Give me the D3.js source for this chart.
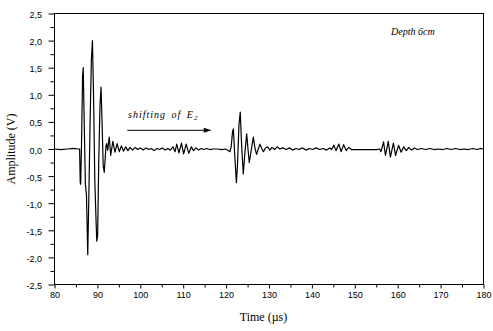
<!DOCTYPE html>
<html>
<head>
<meta charset="utf-8">
<script src="https://cdn.jsdelivr.net/npm/d3@7"></script>
<style>
  body { margin: 0; background: #fff; }
  svg { display: block; }
  .tick text { font-family: "Liberation Sans", Arial, sans-serif; font-size: 9px; fill: #000; }
  .tick line { stroke: #000; }
</style>
</head>
<body>
<div id="chart-area"></div>
<script>
// Received signal, [time (µs), amplitude (V)]
const leadIn = [
  [80, 0.00], [81.5, -0.01], [83, 0.00], [84.5, 0.01], [85.5, 0.00], [85.85, 0.0]
];
const firstEcho = [
  [86.0, -0.62], [86.1, -0.65], [86.3, 0.1], [86.55, 1.35], [86.7, 1.5], [86.9, 0.6],
  [87.2, -0.65], [87.45, -0.85], [87.75, -1.95], [88.0, -0.9], [88.3, 0.5], [88.6, 1.65],
  [88.85, 2.0], [89.1, 1.0], [89.4, -0.6], [89.7, -1.35], [89.85, -1.7], [90.05, -1.6],
  [90.3, -0.3], [90.6, 0.8], [90.85, 1.14], [91.05, 0.6], [91.35, -0.3], [91.6, -0.43],
  [92.0, 0.05], [92.15, 0.1], [92.4, -0.02], [92.75, 0.22], [93.1, -0.12], [93.6, 0.14],
  [94.1, -0.06], [94.6, 0.1], [95.1, -0.05], [95.6, 0.06], [96.1, -0.04], [96.6, 0.04],
  [97.1, -0.03], [97.6, 0.03]
];
const firstTail = [
  [98.2, -0.02], [98.8, 0.03], [99.4, -0.01], [100, 0.02], [100.7, -0.02], [101.3, 0.02],
  [102, -0.01], [102.6, 0.01], [103.2, -0.03], [103.9, 0.01], [104.5, -0.01], [105.1, 0.02],
  [105.8, -0.02], [106.4, 0.01], [107.0, -0.02], [107.6, 0.04], [108.1, -0.05], [108.5, 0.09],
  [109.0, -0.07], [109.6, 0.11], [110.1, -0.09], [110.7, 0.09], [111.3, -0.08], [111.9, 0.04],
  [112.4, -0.03], [113.0, 0.02], [113.6, -0.02], [114.2, 0.01], [114.8, -0.01], [115.5, 0.01],
  [116.2, -0.01], [117, 0.0], [118, 0.0], [119, -0.01], [119.8, 0.0], [120.3, -0.02], [120.9, -0.05]
];
const secondEcho = [
  [121.2, 0.05], [121.5, 0.32], [121.7, 0.37], [122.0, -0.1], [122.4, -0.62], [122.65, -0.3],
  [123.0, 0.45], [123.3, 0.68], [123.6, 0.1], [124.0, -0.46], [124.35, -0.1], [124.8, 0.28],
  [125.1, 0.0], [125.4, -0.25], [125.9, 0.0], [126.35, 0.22], [126.7, 0.03], [127.1, -0.1],
  [127.5, 0.0], [127.9, 0.09], [128.3, 0.01], [128.7, -0.05], [129.2, 0.02], [129.7, 0.04],
  [130.2, -0.02]
];
const secondTail = [
  [130.7, 0.03], [131.3, -0.01], [131.9, 0.04], [132.5, 0.0], [133.2, 0.02], [134, -0.01],
  [134.8, 0.02], [135.5, -0.02], [136.3, 0.01], [137, -0.01], [137.8, 0.02], [138.6, -0.02],
  [139.4, 0.01], [140.2, -0.01], [141, 0.02], [141.8, -0.01], [142.6, 0.01], [143.4, -0.02],
  [144.2, 0.02], [144.6, -0.01], [145.1, 0.07], [145.6, -0.03], [146.3, 0.09], [146.8, -0.05],
  [147.4, 0.08], [148.0, -0.03], [148.6, 0.03], [149.2, -0.01], [150.5, -0.01], [152, -0.01],
  [153.5, -0.01], [155, -0.01], [155.8, 0.0]
];
const thirdEcho = [
  [156.1, -0.05], [156.7, 0.13], [157.15, -0.12], [157.8, 0.14], [158.3, -0.15], [159.0, 0.11],
  [159.5, -0.12], [160.2, 0.07], [160.8, -0.06], [161.4, 0.04], [162.0, -0.03], [162.6, 0.03],
  [163.2, -0.02], [163.9, 0.02], [164.6, -0.01]
];
const thirdTail = [
  [165.5, 0.01], [166.5, -0.01], [167.5, 0.01], [168.5, -0.01], [169.5, 0.0], [170.5, -0.01],
  [171.5, 0.01], [172.5, -0.01], [173.5, 0.01], [174.5, -0.01], [175.5, 0.0], [176.5, -0.01],
  [177.5, 0.01], [178.5, -0.01], [179.3, 0.01], [180, 0.0]
];

// Axis ticks
const xTicks = [80, 90, 100, 110, 120, 130, 140, 150, 160, 170, 180];
const xMinorTicks = [85, 95, 105, 115, 125, 135, 145, 155, 165, 175];
const yTicks = [-2.5, -2.0, -1.5, -1.0, -0.5, 0.0, 0.5, 1.0, 1.5, 2.0, 2.5];
const yMinorTicks = [-2.25, -1.75, -1.25, -0.75, -0.25, 0.25, 0.75, 1.25, 1.75, 2.25];

// Annotation anchors (data units)
const arrowFrom = [96.97, 0.345];
const arrowTo = [116.64, 0.345];

const margin = { left: 54.5, right: 9.5, top: 13.5, bottom: 46.5 };
const width = 493 - margin.left - margin.right;
const height = 331 - margin.top - margin.bottom;

const svg = d3.select('#chart-area').append('svg')
  .attr('width', 493)
  .attr('height', 331);

const g = svg.append('g')
  .attr('transform', 'translate(' + margin.left + ', ' + margin.top + ')');

const x = d3.scaleLinear().domain([80, 180]).range([0, width]);
const y = d3.scaleLinear().domain([-2.5, 2.5]).range([height, 0]);

const commaFmt = (d) => (d < 0 ? '-' : '') + Math.abs(d).toFixed(1).replace('.', ',');

// x axis, major + minor
const xAxis = g.append('g')
  .attr('transform', 'translate(0, ' + height + ')')
  .call(d3.axisBottom(x).tickValues(xTicks).tickSize(4).tickSizeOuter(0).tickPadding(3.5)
    .tickFormat(d3.format('d')));
xAxis.select('.domain').remove();

g.append('g')
  .attr('transform', 'translate(0, ' + height + ')')
  .call(d3.axisBottom(x).tickValues(xMinorTicks).tickSize(3).tickSizeOuter(0).tickFormat(''))
  .select('.domain').remove();

// y axis, major + minor
const yAxis = g.append('g')
  .call(d3.axisLeft(y).tickValues(yTicks).tickSize(6).tickSizeOuter(0).tickPadding(6.5)
    .tickFormat(commaFmt));
yAxis.select('.domain').remove();
yAxis.selectAll('text').attr('dy', '0.45em');

g.append('g')
  .call(d3.axisLeft(y).tickValues(yMinorTicks).tickSize(4).tickSizeOuter(0).tickFormat(''))
  .select('.domain').remove();

// frame
g.append('rect')
  .attr('width', width)
  .attr('height', height)
  .attr('fill', 'none')
  .attr('stroke', '#000')
  .attr('stroke-width', 1);

// signal trace
const trace = [].concat(leadIn, firstEcho, firstTail, secondEcho, secondTail, thirdEcho, thirdTail);
const line = d3.line()
  .x((d) => x(d[0]))
  .y((d) => y(d[1]));

g.append('path')
  .datum(trace)
  .attr('d', line)
  .attr('fill', 'none')
  .attr('stroke', '#000')
  .attr('stroke-width', 1.2)
  .attr('stroke-linejoin', 'round');

// arrow
g.append('line')
  .attr('x1', x(arrowFrom[0]))
  .attr('y1', y(arrowFrom[1]))
  .attr('x2', x(arrowTo[0]) - 6)
  .attr('y2', y(arrowTo[1]))
  .attr('stroke', '#000')
  .attr('stroke-width', 1);

const tipX = x(arrowTo[0]);
const tipY = y(arrowTo[1]);
g.append('path')
  .attr('d', 'M' + tipX + ',' + tipY + 'L' + (tipX - 8) + ',' + (tipY - 2.5) + 'L' + (tipX - 8) + ',' + (tipY + 2.5) + 'Z')
  .attr('fill', '#000');

// annotations
const note = svg.append('text')
  .attr('x', 128)
  .attr('y', 118)
  .attr('font-family', '"Liberation Serif", "Times New Roman", serif')
  .attr('font-style', 'italic')
  .attr('font-size', '10px')
  .attr('letter-spacing', '1px')
  .attr('word-spacing', '2px');
note.append('tspan').text('shifting of E');
note.append('tspan').attr('font-size', '7px').attr('dy', 2).text('2');

svg.append('text')
  .attr('x', 391)
  .attr('y', 35)
  .attr('font-family', '"Liberation Serif", "Times New Roman", serif')
  .attr('font-style', 'italic')
  .attr('font-size', '10px')
  .text('Depth 6cm');

// axis titles
svg.append('text')
  .attr('x', 263.5)
  .attr('y', 321)
  .attr('font-family', '"Liberation Serif", "Times New Roman", serif')
  .attr('font-size', '12px')
  .attr('text-anchor', 'middle')
  .text('Time (µs)');

svg.append('text')
  .attr('transform', 'translate(15, 149) rotate(-90)')
  .attr('font-family', '"Liberation Serif", "Times New Roman", serif')
  .attr('font-size', '12px')
  .attr('text-anchor', 'middle')
  .text('Amplitude (V)');
</script>
</body>
</html>
